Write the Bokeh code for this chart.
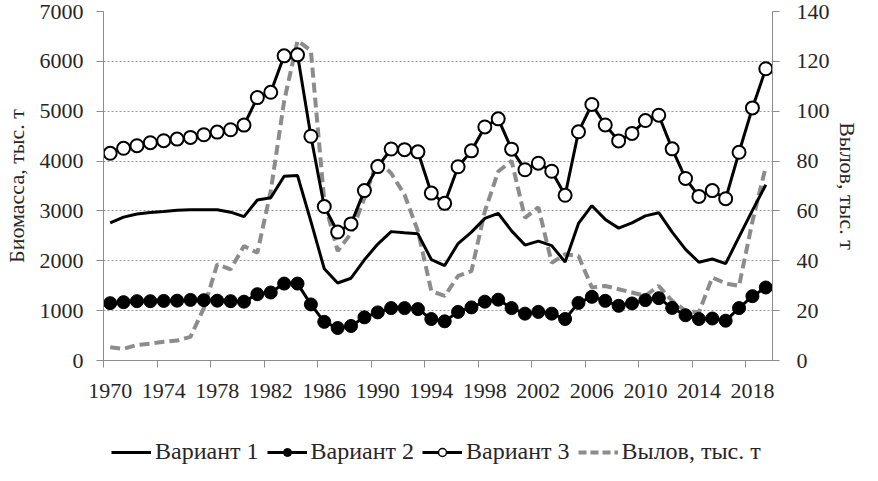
from bokeh.plotting import figure
from bokeh.models import (Range1d, LinearAxis, FixedTicker, ColumnDataSource,
                          Legend, LegendItem)
from bokeh.layouts import column
from bokeh.embed import file_html
from bokeh.resources import INLINE

years = list(range(1970, 2020))
variant1 = [2760, 2875, 2940, 2970, 2990, 3015, 3025, 3025, 3025, 2975,
            2885, 3220, 3265, 3695, 3710, 2790, 1840, 1555, 1650, 2020,
            2335, 2585, 2560, 2540, 2025, 1905, 2345, 2575, 2850, 2950,
            2600, 2315, 2395, 2305, 1975, 2750, 3105, 2830, 2655, 2760,
            2900, 2965, 2575, 2230, 1970, 2035, 1942, 2480, 3010, 3524]
variant2 = [1150, 1170, 1190, 1190, 1195, 1200, 1215, 1210, 1200, 1190,
            1180, 1330, 1364, 1543, 1543, 1125, 775, 652, 692, 866,
            965, 1051, 1051, 1031, 832, 786, 975, 1065, 1180, 1220,
            1051, 940, 975, 940, 832, 1155, 1277, 1197, 1097, 1144,
            1211, 1250, 1055, 908, 832, 842, 798, 1051, 1290, 1464]
variant3 = [4156, 4256, 4308, 4368, 4408, 4441, 4475, 4528, 4581, 4628,
            4721, 5273, 5379, 6111, 6131, 4498, 3088, 2576, 2740, 3408,
            3889, 4242, 4229, 4185, 3358, 3152, 3886, 4205, 4684, 4847,
            4239, 3826, 3957, 3796, 3314, 4587, 5136, 4724, 4405, 4555,
            4813, 4920, 4245, 3651, 3291, 3408, 3245, 4176, 5066, 5852]
catch = [5.3, 4.7, 6.2, 6.8, 7.5, 8.0, 9.5, 21.0, 38.6, 36.6,
         45.9, 43.2, 68.0, 104.0, 128.3, 124.3, 64.0, 43.9, 51.0, 65.2,
         80.5, 75.1, 66.5, 51.9, 27.9, 25.9, 33.9, 35.9, 59.8, 75.8,
         80.1, 57.2, 61.5, 39.2, 42.6, 41.9, 29.3, 29.9, 28.6, 27.3,
         25.9, 29.9, 23.9, 19.9, 19.3, 33.3, 30.9, 29.9, 55.8, 77.8]

label_years = list(range(1970, 2020, 4))
boundary_ticks = [y - 0.5 for y in label_years]
left_ticks = list(range(0, 7001, 1000))
right_ticks = list(range(0, 141, 20))

names = ["Вариант 1", "Вариант 2", "Вариант 3", "Вылов, тыс. т"]
left_title = "Биомасса, тыс. т"
right_title = "Вылов, тыс. т"

FONT = "Liberation Serif"
FS = "22px"
TXT = "#262626"
AX = "#8c8c8c"
CATCH_COLOR = "#8c8c8c"

src = ColumnDataSource(dict(year=years, v1=variant1, v2=variant2,
                            v3=variant3, catch=catch))

# ---------------- main chart ----------------
p = figure(width=862, height=412, output_backend="svg", toolbar_location=None,
           x_range=Range1d(years[0] - 0.5, years[-1] + 0.5),
           y_range=Range1d(0, 7000),
           min_border_left=96, min_border_right=82, min_border_top=11,
           min_border_bottom=52)
p.extra_y_ranges = {"catch": Range1d(0, 140)}
p.outline_line_color = None
p.background_fill_color = "white"
p.border_fill_color = "white"

p.xgrid.grid_line_color = None
p.ygrid.ticker = FixedTicker(ticks=left_ticks)
p.ygrid.grid_line_color = "#9a9a9a"
p.ygrid.grid_line_dash = "2 2"
p.ygrid.grid_line_width = 1

ya = p.yaxis[0]
ya.ticker = FixedTicker(ticks=left_ticks)
ya.axis_label = left_title

xa = p.xaxis[0]
xa.ticker = FixedTicker(ticks=boundary_ticks)

xl = LinearAxis(ticker=FixedTicker(ticks=label_years))
p.add_layout(xl, "below")

yr = LinearAxis(y_range_name="catch", ticker=FixedTicker(ticks=right_ticks),
                axis_label=right_title)
p.add_layout(yr, "right")

for ax in [ya, xa, xl, yr]:
    ax.axis_line_color = AX
    ax.major_tick_line_color = AX
    ax.major_tick_in = 0
    ax.major_tick_out = 7
    ax.minor_tick_line_color = None
    ax.major_label_text_font = FONT
    ax.major_label_text_font_size = FS
    ax.major_label_text_color = TXT
    ax.axis_label_text_font = FONT
    ax.axis_label_text_font_size = FS
    ax.axis_label_text_font_style = "normal"
    ax.axis_label_text_color = TXT
xa.major_label_text_font_size = "1px"
xa.major_label_text_color = None
xa.major_label_standoff = 0
xl.major_tick_out = 0
xl.axis_line_color = None
xl.major_label_standoff = 16
ya.major_label_standoff = 13
yr.major_label_standoff = 17
ya.axis_label_standoff = 8
yr.axis_label_standoff = 2

p.line("year", "catch", source=src, y_range_name="catch",
       line_color=CATCH_COLOR, line_width=4, line_dash="10 5")
p.line("year", "v1", source=src, line_color="black", line_width=3)
p.line("year", "v2", source=src, line_color="black", line_width=3)
p.scatter("year", "v2", source=src, size=13, fill_color="black",
          line_color="black")
p.line("year", "v3", source=src, line_color="black", line_width=3)
p.scatter("year", "v3", source=src, size=13, fill_color="white",
          line_color="black", line_width=2)

# ---------------- legend strip ----------------
# same series drawn far outside this strip's ranges, so only the legend shows
lf = figure(width=862, height=53, output_backend="svg", toolbar_location=None,
            x_range=Range1d(0, 1), y_range=Range1d(-2, -1),
            x_axis_location=None, y_axis_location=None,
            min_border_left=0, min_border_right=0, min_border_top=0,
            min_border_bottom=0)
lf.outline_line_color = None
lf.xgrid.grid_line_color = None
lf.ygrid.grid_line_color = None

g1 = lf.line("year", "v1", source=src, line_color="black", line_width=3)
g2l = lf.line("year", "v2", source=src, line_color="black", line_width=3)
g2m = lf.scatter("year", "v2", source=src, size=10, fill_color="black",
                 line_color="black")
g3l = lf.line("year", "v3", source=src, line_color="black", line_width=3)
g3m = lf.scatter("year", "v3", source=src, size=10, fill_color="white",
                 line_color="black", line_width=1.5)
g4 = lf.line("year", "catch", source=src, line_color=CATCH_COLOR,
             line_width=4, line_dash="8 4")

legend = Legend(items=[
    LegendItem(label=names[0], renderers=[g1]),
    LegendItem(label=names[1], renderers=[g2l, g2m]),
    LegendItem(label=names[2], renderers=[g3l, g3m]),
    LegendItem(label=names[3], renderers=[g4]),
], orientation="horizontal", location=(8, 0))
legend.label_text_font = FONT
legend.label_text_font_size = "24px"
legend.label_text_color = TXT
legend.glyph_width = 40
legend.glyph_height = 20
legend.label_standoff = 4
legend.spacing = 8
legend.padding = 2
legend.margin = 0
legend.border_line_color = None
legend.background_fill_alpha = 0
lf.add_layout(legend, "center")

layout = column(p, lf, spacing=0)
open("out.html", "w").write(file_html(layout, INLINE))
